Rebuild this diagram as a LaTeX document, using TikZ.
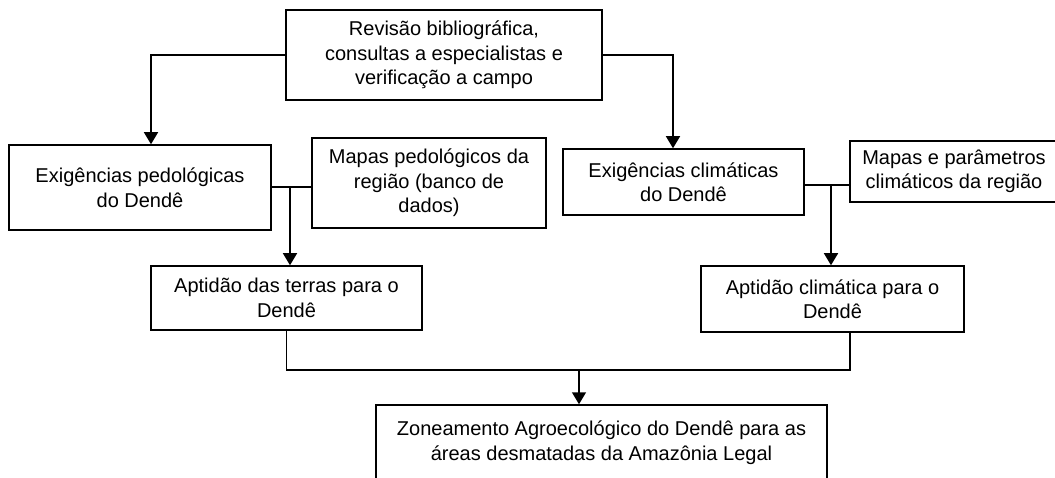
\documentclass[tikz,border=0pt]{standalone}
\usepackage{fontspec}
\setmainfont{Liberation Sans}
\usetikzlibrary{arrows.meta}
\tikzset{
  box/.style={draw, line width=1.5pt, inner sep=0pt, align=center,
    font=\fontsize{20}{24.5}\selectfont},
  conn/.style={line width=1.5pt},
  arr/.style={line width=1.5pt, -{Triangle[length=12pt,width=14pt]}}
}
\begin{document}
\begin{tikzpicture}[x=1pt,y=-1pt]
\useasboundingbox (0,0) rectangle (1055,478);
\node[box, minimum width=316pt, minimum height=90pt] (top) at (444,55)
  {Revisão bibliográfica,\\consultas a especialistas e\\verificação a campo};
\node[box, minimum width=262pt, minimum height=85pt] (pedL) at (140,187.5)
  {Exigências pedológicas\\do Dendê};
\node[box, minimum width=234pt, minimum height=90pt] (mapP) at (429,183)
  {Mapas pedológicos da\\região (banco de\\dados)};
\node[box, minimum width=241pt, minimum height=66pt] (climL) at (683.5,182)
  {Exigências climáticas\\do Dendê};
\node[box, minimum width=208pt, minimum height=61pt] (mapC) at (954,171.5)
  {Mapas e parâmetros\\climáticos da região};
\node[box, minimum width=271pt, minimum height=64pt] (aptT) at (286.5,298)
  {Aptidão das terras para o\\Dendê};
\node[box, minimum width=263pt, minimum height=66pt] (aptC) at (832.5,299)
  {Aptidão climática para o\\Dendê};
\node[box, minimum width=451pt, minimum height=75pt] (zon) at (601.5,442.5)
  {Zoneamento Agroecológico do Dendê para as\\áreas desmatadas da Amazônia Legal};
% junction coordinates
\coordinate (tl) at (151,55);
\coordinate (tr) at (673,55);
\coordinate (jP) at (290,187);
\coordinate (jC) at (831,185);
\coordinate (bl) at (286.5,370);
\coordinate (br) at (850,370);
\coordinate (jZ) at (579,370);
% connectors
\draw[arr] (top.west |- tl) -- (tl) -- (tl |- pedL.north);
\draw[arr] (top.east |- tr) -- (tr) -- (tr |- climL.north);
\draw[conn] (pedL.east |- jP) -- (mapP.west |- jP);
\draw[arr] (jP) -- (jP |- aptT.north);
\draw[conn] (climL.east |- jC) -- (mapC.west |- jC);
\draw[arr] (jC) -- (jC |- aptC.north);
\draw[conn] (aptT.south) -- (bl) -- (br) -- (br |- aptC.south);
\draw[arr] (jZ) -- (jZ |- zon.north);
\end{tikzpicture}
\end{document}
